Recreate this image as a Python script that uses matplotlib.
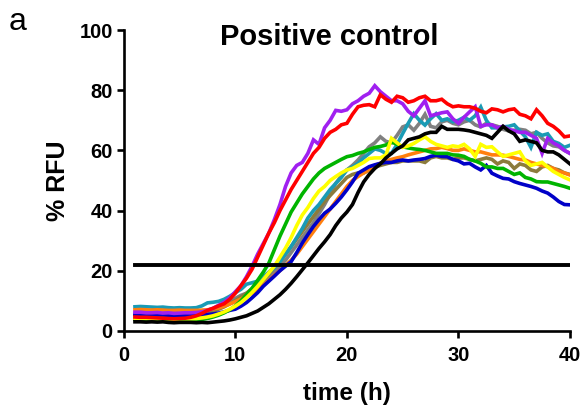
import numpy as np
import matplotlib
matplotlib.use('Agg')
import matplotlib.pyplot as plt

plt.rcParams['font.family'] = ['Liberation Sans', 'DejaVu Sans']

# time points every 0.5 h, from 1 to 40
time_h = np.arange(1, 40.01, 0.5)

red = [4.6, 4.5, 4.5, 4.4, 4.3, 4.2, 4.1, 4.0, 4.1, 4.2,
       4.5, 5.0, 5.8, 6.8, 7.5, 8.3, 9.0, 10.5, 12.5, 15.0,
       17.5, 20.5, 24.5, 28.5, 32.5, 36.0, 40.0, 43.5, 47.0, 50.0,
       53.0, 56.0, 59.0, 61.0, 64.0, 66.0, 67.0, 68.5, 69.0, 72.0,
       74.5, 75.0, 75.2, 74.5, 78.5, 77.0, 76.0, 78.0, 77.5, 76.0,
       76.5, 77.5, 78.0, 76.5, 76.5, 77.0, 75.5, 74.5, 74.8, 74.5,
       74.5, 74.0, 73.0, 72.5, 73.8, 73.5, 72.8, 73.5, 73.8, 72.0,
       71.5, 70.5, 73.5, 71.5, 69.0, 68.0, 66.5, 64.5, 64.8]

purple = [6.2, 6.2, 6.0, 6.0, 6.1, 5.9, 6.0, 5.8, 5.9, 6.0,
          6.0, 6.1, 6.3, 6.8, 7.5, 8.5, 9.5, 11.0, 13.0, 15.0,
          18.0, 21.5, 25.5, 29.0, 32.5, 37.0, 42.0, 48.0, 52.5, 55.0,
          56.0, 59.0, 63.5, 62.0, 67.5, 70.0, 73.3, 73.0, 73.5, 75.5,
          76.5, 78.0, 79.0, 81.5, 79.5, 78.0, 76.5, 76.5, 75.5, 73.0,
          71.5, 74.0, 76.5, 71.5, 72.0, 72.5, 72.8, 70.5, 69.0, 71.0,
          72.8, 74.5, 68.0, 68.5, 68.5, 67.5, 68.0, 67.0, 66.5, 66.0,
          66.0, 65.0, 64.0, 59.0, 64.0, 62.5, 61.5, 60.0, 59.0]

teal = [8.0, 8.1, 8.0, 7.9, 7.8, 7.9, 7.7, 7.6, 7.7, 7.6,
        7.6, 7.7, 8.3, 9.3, 9.5, 9.8, 10.5, 11.5, 12.7, 13.8,
        15.5, 16.0, 16.5, 18.0, 19.5, 21.0, 23.0, 25.5, 28.0, 31.0,
        34.0, 37.5, 40.0, 42.0, 44.5, 47.0, 49.0, 51.0, 53.5, 54.5,
        55.7, 57.5, 59.0, 60.5, 60.0, 59.0, 59.0, 62.0, 65.6, 69.0,
        72.2, 70.0, 68.4, 70.5, 72.2, 70.0, 70.5, 69.5, 70.0, 71.0,
        70.0, 71.5, 74.4, 70.0, 67.5, 67.5, 67.8, 68.0, 68.5, 66.5,
        64.5, 61.0, 66.0, 65.0, 65.5, 63.0, 62.3, 61.0, 61.7]

gray = [5.0, 5.0, 5.0, 4.9, 4.9, 4.8, 4.8, 4.8, 4.8, 4.9,
        5.0, 5.2, 5.5, 6.0, 6.8, 7.5, 8.5, 9.5, 10.8, 11.8,
        12.5, 13.8, 15.0, 16.5, 18.0, 19.8, 21.5, 23.5, 26.0, 28.5,
        31.0, 33.5, 36.0, 39.0, 42.0, 45.5, 49.0, 51.5, 53.5, 55.0,
        56.8, 59.0, 61.2, 62.5, 64.5, 63.0, 62.5, 65.0, 67.8, 68.5,
        66.7, 69.0, 72.0, 68.0, 67.5, 69.5, 70.0, 69.0, 68.5, 69.5,
        70.0, 68.5, 67.8, 69.0, 68.5, 68.0, 67.0, 66.5, 66.7, 67.0,
        66.7, 65.5, 66.0, 64.0, 62.5, 61.5, 61.2, 60.0, 59.0]

olive = [5.0, 5.0, 4.9, 4.9, 4.8, 4.8, 4.7, 4.7, 4.8, 4.8,
         4.9, 5.0, 5.3, 5.8, 6.5, 7.2, 8.0, 9.0, 10.0, 11.2,
         12.5, 14.0, 15.5, 17.0, 19.0, 21.0, 23.0, 25.5, 28.0, 30.5,
         33.0, 35.5, 38.0, 40.5, 43.0, 45.0, 47.0, 49.0, 51.0, 52.0,
         52.5, 52.5, 53.5, 54.5, 55.0, 55.5, 56.0, 56.0, 56.5, 56.5,
         56.5, 56.5, 56.0, 57.5, 58.0, 57.5, 57.5, 57.0, 57.5, 57.5,
         57.0, 56.5, 57.0, 57.5, 57.0, 55.5, 56.5, 56.0, 54.0, 55.5,
         55.0, 53.5, 53.0, 54.5, 55.0, 54.0, 53.5, 52.5, 52.0]

orange = [7.0, 7.1, 7.0, 6.9, 7.0, 6.9, 6.8, 6.8, 6.9, 6.8,
          6.8, 6.8, 6.9, 7.0, 7.3, 7.6, 8.2, 8.9, 9.7, 10.6,
          11.5, 12.5, 13.8, 15.2, 16.8, 18.5, 20.0, 21.8, 23.5, 25.5,
          28.0, 30.5, 33.0, 35.5, 38.0, 40.5, 43.0, 45.5, 48.0, 50.0,
          51.3, 52.5, 53.5, 55.0, 55.7, 56.5, 57.0, 57.5, 57.9, 58.5,
          59.0, 59.5, 60.0, 60.5, 60.6, 61.0, 60.6, 60.0, 60.0, 60.5,
          60.0, 59.5, 59.5, 59.0, 58.5, 58.5, 58.4, 58.0, 57.5, 57.0,
          56.8, 56.0, 55.5, 55.0, 54.6, 54.0, 53.0, 52.5, 51.8]

yellow = [4.2, 4.2, 4.1, 4.1, 4.0, 4.0, 4.0, 3.9, 4.0, 4.0,
          4.0, 4.1, 4.3, 4.6, 5.0, 5.6, 6.3, 7.2, 8.2, 9.4,
          11.0, 12.8, 14.8, 17.0, 19.3, 21.5, 24.5, 27.5, 31.0, 35.0,
          38.5, 41.0, 44.0, 46.5, 48.0, 50.0, 51.3, 52.5, 53.5, 54.0,
          55.0, 56.0, 57.3, 57.5, 57.5, 58.5, 64.0, 62.5, 61.0, 61.5,
          62.3, 63.5, 64.5, 63.0, 62.0, 61.5, 61.0, 61.5, 61.2, 62.0,
          60.5, 58.0, 62.0, 61.0, 61.2, 59.5, 58.0, 58.5, 59.0, 59.5,
          56.5, 55.0, 55.5, 56.0, 54.5, 53.0, 52.0, 51.0, 50.2]

green = [3.8, 3.7, 3.7, 3.6, 3.6, 3.6, 3.5, 3.5, 3.5, 3.5,
         3.5, 3.6, 3.8, 4.1, 4.6, 5.2, 6.0, 7.0, 8.3, 10.0,
         12.0, 14.2, 16.8, 19.5, 22.5, 27.0, 31.5, 35.5, 39.5, 42.5,
         45.5, 48.0, 50.5, 52.5, 54.0, 55.0, 56.0, 57.0, 57.9, 58.3,
         59.0, 59.5, 60.3, 61.0, 61.3, 61.8, 62.8, 62.0, 61.2, 60.8,
         60.5, 60.3, 60.0, 59.5, 59.0, 59.0, 59.0, 58.5, 58.4, 58.0,
         57.0, 56.5, 55.7, 54.5, 54.5, 54.0, 54.0, 53.0, 52.0, 52.5,
         51.0, 50.5, 49.6, 49.5, 49.5, 49.0, 48.5, 48.0, 47.4]

blue = [5.5, 5.5, 5.4, 5.4, 5.3, 5.3, 5.2, 5.2, 5.2, 5.2,
        5.2, 5.2, 5.3, 5.4, 5.6, 5.9, 6.3, 6.8, 7.2, 8.2,
        9.4, 11.0, 12.7, 14.8, 16.5, 18.2, 20.0, 21.5, 23.0, 26.0,
        29.2, 32.0, 34.7, 37.0, 39.1, 40.5, 42.4, 44.5, 46.9, 49.5,
        52.4, 53.5, 54.6, 55.2, 55.7, 56.0, 56.0, 56.5, 56.8, 56.5,
        56.8, 57.0, 57.3, 58.0, 58.4, 58.0, 57.9, 57.0, 56.5, 55.5,
        55.7, 54.5, 53.5, 55.0, 52.4, 51.5, 50.7, 50.5, 49.6, 49.0,
        48.5, 48.0, 47.4, 46.5, 45.8, 44.5, 43.0, 42.0, 41.9]

black = [3.0, 3.0, 2.9, 3.0, 2.9, 3.0, 2.8, 2.7, 2.8, 2.8,
         2.8, 2.7, 2.8, 2.7, 2.9, 3.1, 3.3, 3.6, 4.0, 4.5,
         5.0, 5.8, 6.6, 7.8, 9.0, 10.5, 12.0, 13.8, 15.8, 18.0,
         20.3, 22.6, 25.0, 27.4, 29.6, 32.0, 35.0, 37.5, 39.5, 42.0,
         46.0, 49.5, 52.0, 54.0, 55.5, 57.5, 59.0, 60.5, 61.5, 63.5,
         64.0, 64.5, 65.5, 66.0, 66.0, 68.0, 67.0, 67.0, 67.0, 66.8,
         66.5, 66.0, 65.5, 65.0, 64.0, 66.0, 68.0, 66.5, 65.5, 63.0,
         63.5, 63.0, 62.5, 60.0, 59.5, 59.5, 58.5, 57.0, 55.5]

threshold = 22

# drawing order: first in list is drawn first (bottom)
series = [
    (gray, '#808080'),
    (olive, '#8C7B3C'),
    (teal, '#1A9BB5'),
    (orange, '#FF7F0E'),
    (blue, '#0000C8'),
    (green, '#00B400'),
    (yellow, '#FFFF00'),
    (purple, '#A020F0'),
    (red, '#FF0000'),
    (black, '#000000'),
]

fig = plt.figure(figsize=(5.84, 4.12), dpi=100)
ax = fig.add_axes([0.212, 0.197, 0.764, 0.730])

for vals, col in series:
    ax.plot(time_h, vals, color=col, lw=2.6, solid_joinstyle='miter')

ax.plot([time_h[0], time_h[-1]], [threshold, threshold], color='black', lw=2.8)

ax.set_xlim(0, 40)
ax.set_ylim(0, 100)
ax.set_xticks([0, 10, 20, 30, 40])
ax.set_yticks([0, 20, 40, 60, 80, 100])
for side in ['top', 'right']:
    ax.spines[side].set_visible(False)
for side in ['left', 'bottom']:
    ax.spines[side].set_linewidth(1.9)
ax.tick_params(width=1.9, length=5, labelsize=14.5)
ax.tick_params(axis='x', pad=6)
ax.tick_params(axis='y', pad=3)
for lab in ax.get_xticklabels() + ax.get_yticklabels():
    lab.set_fontweight('bold')

ax.set_xlabel('time (h)', fontsize=17.5, fontweight='bold', labelpad=12)
ax.set_ylabel('% RFU', fontsize=18, fontweight='bold', labelpad=7)
fig.text(329 / 584, 1 - 37 / 412, 'Positive control', fontsize=21,
         fontweight='bold', ha='center', va='center')
fig.text(9 / 584, 1 - 22 / 412, 'a', fontsize=23, ha='left', va='center')

fig.savefig('out.png', dpi=100)
